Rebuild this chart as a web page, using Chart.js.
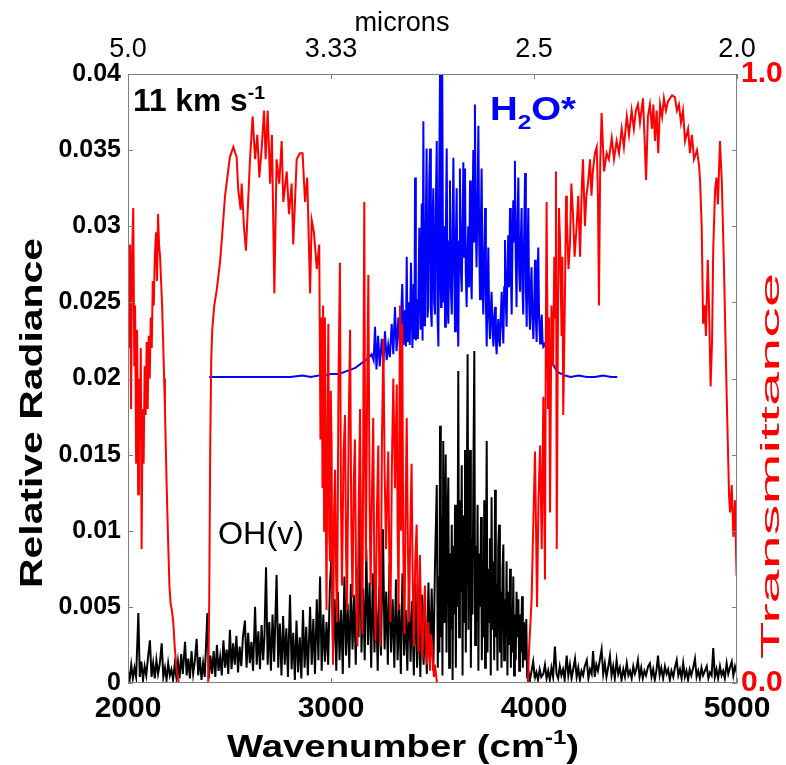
<!DOCTYPE html>
<html>
<head>
<meta charset="utf-8">
<script src="https://cdn.jsdelivr.net/npm/chart.js@4.4.1/dist/chart.umd.min.js"></script>
<style>
  html, body { margin: 0; padding: 0; background: #fff; }
  #wrap { width: 786px; height: 765px; }
</style>
</head>
<body>
<div id="wrap"><canvas id="spectrum" width="786" height="765"></canvas></div>
<script>
// transmittance (right axis), [wavenumber, T]
const transmittance = [
  [2000,.67],[2005,.55],[2010,.72],[2015,.45],[2020,.70],[2026,.78],[2031,.52],[2035,.62],[2040,.36],[2045,.58],
  [2050,.31],[2054,.50],[2059,.40],[2063,.55],[2067,.22],[2072,.45],[2077,.36],[2082,.52],[2087,.44],[2092,.56],
  [2097,.45],[2102,.57],[2107,.50],[2112,.60],[2117,.55],[2122,.66],[2127,.62],[2132,.70],[2138,.74],[2143,.66],
  [2148,.77],[2153,.72],[2158,.70],[2163,.66],[2168,.62],[2173,.56],[2178,.50],[2182,.45],[2190,.33],[2197,.24],
  [2204,.16],[2210,.13],[2216,.12],[2223,.10],[2230,.06],[2240,.02],[2250,0],[2395,0],[2400,.13],[2405,.39],
  [2410,.53],[2415,.58],[2425,.62],[2437,.645],[2453,.69],[2462,.727],[2478,.80],[2502,.864],[2519,.88],[2535,.864],
  [2543,.81],[2555,.777],[2560,.82],[2571,.75],[2581,.71],[2593,.80],[2601,.86],[2614,.93],[2626,.86],[2637,.90],
  [2647,.83],[2659,.88],[2670,.94],[2678,.86],[2688,.94],[2700,.82],[2709,.90],[2721,.64],[2732,.86],[2745,.82],
  [2757,.89],[2765,.79],[2782,.84],[2793,.77],[2806,.82],[2814,.72],[2831,.86],[2847,.87],[2860,.87],[2872,.79],
  [2883,.83],[2897,.64],[2905,.76],[2916,.74],[2930,.68],[2942,.72],[2948,.40],[2954,.60],[2958,.32],[2961,.62],
  [2966,.25],[2970,.60],[2974,.30],[2978,.12],[2983,.45],[2987,.59],[2991,.25],[2995,.20],[2999,.48],[3003,.39],
  [3006,.15],[3010,.03],[3015,.28],[3020,.35],[3025,.18],[3030,.10],[3037,.50],[3044,.69],[3049,.30],[3054,.16],
  [3062,.38],[3069,.44],[3074,.22],[3079,.12],[3087,.42],[3094,.58],[3100,.26],[3106,.14],[3112,.33],[3118,.40],
  [3124,.15],[3130,.06],[3137,.30],[3143,.45],[3149,.18],[3155,.08],[3160,.50],[3164,.79],[3168,.36],[3172,.20],
  [3178,.48],[3184,.67],[3190,.30],[3195,.16],[3202,.32],[3208,.435],[3213,.20],[3219,.07],[3226,.28],[3233,.39],
  [3238,.15],[3244,.06],[3251,.40],[3258,.565],[3264,.35],[3271,.22],[3276,.30],[3282,.38],[3288,.18],[3293,.10],
  [3300,.36],[3307,.50],[3315,.32],[3324,.49],[3328,.26],[3333,.12],[3337,.45],[3340,.62],[3345,.25],[3351,.59],
  [3356,.22],[3362,.08],[3368,.30],[3373,.435],[3379,.22],[3384,.10],[3391,.26],[3397,.36],[3402,.18],[3408,.06],
  [3415,.20],[3422,.26],[3427,.12],[3431,.05],[3438,.21],[3444,.10],[3451,.04],[3457,.12],[3463,.16],[3468,.07],
  [3473,.03],[3479,.10],[3484,.05],[3488,.02],[3493,.08],[3498,.06],[3503,.03],[3507,.01],[3512,.03],[3522,0],
  [3970,0],[3975,.05],[3988,.136],[3995,.24],[4005,.38],[4015,.125],[4022,.30],[4030,.39],[4038,.22],[4046,.47],
  [4054,.17],[4058,.55],[4062,.79],[4069,.45],[4074,.60],[4079,.28],[4086,.62],[4094,.52],[4100,.70],[4104,.60],
  [4108,.84],[4112,.22],[4118,.60],[4123,.78],[4128,.73],[4136,.57],[4140,.70],[4144,.44],[4153,.65],[4158,.80],
  [4162,.76],[4170,.68],[4177,.72],[4184,.82],[4192,.77],[4200,.70],[4210,.75],[4218,.80],[4227,.70],[4235,.81],
  [4241,.86],[4251,.75],[4258,.80],[4266,.82],[4276,.86],[4283,.80],[4290,.84],[4300,.87],[4309,.88],[4315,.80],
  [4320,.62],[4326,.85],[4333,.936],[4345,.84],[4358,.87],[4369,.86],[4383,.895],[4394,.86],[4407,.89],[4419,.87],
  [4432,.91],[4443,.88],[4457,.93],[4468,.90],[4481,.94],[4492,.91],[4502,.94],[4512,.95],[4522,.92],[4537,.96],
  [4544,.90],[4552,.826],[4561,.93],[4571,.95],[4581,.91],[4588,.95],[4596,.89],[4604,.94],[4612,.87],[4621,.95],
  [4631,.93],[4640,.96],[4650,.94],[4660,.955],[4670,.96],[4680,.965],[4694,.962],[4704,.94],[4714,.95],[4724,.92],
  [4734,.94],[4744,.89],[4759,.91],[4768,.87],[4778,.90],[4788,.86],[4803,.875],[4813,.85],[4818,.825],[4826,.75],
  [4833,.59],[4840,.62],[4847,.57],[4856,.695],[4862,.62],[4870,.487],[4877,.56],[4883,.714],[4892,.81],[4899,.83],
  [4906,.786],[4916,.89],[4925,.825],[4936,.68],[4949,.474],[4961,.306],[4966,.28],[4974,.325],[4982,.24],[4990,.30],
  [4998,.176],[5000,.19]
];

// H2O* radiance (left axis)
const h2oRadiance = [
  [2400,.0201],[2500,.0201],[2600,.0201],[2700,.0201],[2800,.0201],[2860,.0202],[2900,.0201],[2940,.0202],[2970,.0202],[3000,.0203],
  [3040,.0203],[3080,.0205],[3120,.0207],[3150,.0210],[3180,.0213],[3200,.0216],[3210,.0212],[3217,.0234],[3224,.0206],[3232,.0228],
  [3240,.0208],[3250,.0226],[3258,.0210],[3266,.0231],[3274,.0212],[3282,.0222],[3290,.0214],[3299,.0236],[3307,.0216],[3315,.0247],
  [3323,.0218],[3332,.0240],[3340,.0219],[3351,.0262],[3358,.0222],[3365,.0245],[3369,.0221],[3373,.0280],[3377,.0224],[3381,.0250],
  [3388,.0222],[3394,.0276],[3401,.0220],[3407,.0262],[3411,.0226],[3414,.0332],[3418,.0225],[3422,.0252],[3428,.0226],[3435,.0299],
  [3441,.0232],[3447,.0315],[3451,.0225],[3455,.0369],[3459,.0235],[3463,.0247],[3467,.0300],[3471,.0351],[3475,.0240],[3479,.0247],
  [3484,.0330],[3488,.0351],[3492,.0245],[3496,.0234],[3500,.0300],[3504,.0325],[3508,.0250],[3512,.0242],[3516,.0310],[3521,.0356],
  [3525,.0240],[3529,.0221],[3533,.0330],[3537,.0400],[3540,.0260],[3542,.0247],[3545,.0360],[3548,.0400],[3552,.0270],[3555,.0250],
  [3558,.0300],[3562,.0234],[3566,.0300],[3570,.0351],[3574,.0250],[3578,.0236],[3582,.0290],[3586,.0330],[3590,.0260],[3595,.0242],
  [3599,.0300],[3603,.0345],[3607,.0270],[3611,.0231],[3615,.0290],[3619,.0325],[3623,.0250],[3627,.0221],[3631,.0290],[3635,.0338],
  [3640,.0270],[3644,.0257],[3648,.0300],[3652,.0342],[3656,.0280],[3660,.0338],[3664,.0270],[3668,.0247],[3672,.0280],[3676,.0300],
  [3680,.0260],[3685,.0330],[3689,.0270],[3693,.0252],[3697,.0300],[3701,.0350],[3705,.0290],[3709,.0380],[3713,.0300],[3717,.0273],
  [3722,.0320],[3726,.0366],[3730,.0290],[3734,.0252],[3738,.0300],[3742,.0338],[3746,.0270],[3750,.0242],[3755,.0280],[3759,.0312],
  [3763,.0250],[3767,.0221],[3771,.0260],[3775,.0286],[3779,.0240],[3783,.0226],[3787,.0245],[3791,.0257],[3796,.0230],[3800,.0221],
  [3804,.0240],[3808,.0247],[3812,.0225],[3816,.0216],[3820,.0230],[3824,.0239],[3828,.0225],[3832,.0221],[3836,.0240],[3841,.0257],
  [3845,.0235],[3849,.0223],[3853,.0260],[3857,.0291],[3861,.0250],[3865,.0234],[3869,.0270],[3873,.0294],[3877,.0260],[3882,.0312],
  [3886,.0270],[3890,.0242],[3894,.0290],[3898,.0317],[3902,.0290],[3906,.0343],[3910,.0280],[3914,.0247],[3918,.0300],[3923,.0332],
  [3927,.0270],[3931,.0257],[3935,.0290],[3939,.0312],[3943,.0260],[3947,.0242],[3951,.0290],[3956,.0335],[3960,.0260],[3964,.0234],
  [3968,.0280],[3972,.0312],[3976,.0250],[3980,.0232],[3984,.0260],[3988,.0273],[3992,.0240],[3997,.0226],[4001,.0250],[4005,.0278],
  [4009,.0240],[4013,.0224],[4017,.0260],[4021,.0286],[4025,.0240],[4030,.0223],[4034,.0235],[4038,.0242],[4042,.0225],[4046,.0221],
  [4054,.0223],[4062,.0218],[4071,.0216],[4080,.0213],[4087,.0211],[4095,.0209],[4103,.0207],[4112,.0205],[4120,.0204],[4135,.0203],
  [4153,.0202],[4180,.0201],[4220,.0202],[4260,.0201],[4300,.0201],[4340,.0202],[4380,.0201],[4410,.0201]
];

// OH(v) radiance (left axis)
const ohRadiance = [
  [2000,.0008],[2008,.0002],[2016,.0012],[2024,.0003],[2032,.0010],[2040,.0004],[2051,.0046],[2058,.0004],[2066,.0014],[2074,.0002],
  [2082,.0011],[2090,.0005],[2098,.0016],[2108,.0028],[2116,.0004],[2124,.0013],[2132,.0003],[2140,.0015],[2148,.0006],[2156,.0012],
  [2166,.0026],[2174,.0004],[2182,.0010],[2190,.0002],[2198,.0013],[2206,.0005],[2214,.0009],[2222,.0002],[2230,.0012],[2238,.0004],
  [2246,.0014],[2254,.0003],[2262,.0019],[2270,.0006],[2281,.0027],[2289,.0005],[2297,.0016],[2305,.0003],[2313,.0021],[2321,.0006],
  [2329,.0014],[2338,.0029],[2346,.0005],[2354,.0017],[2362,.0002],[2370,.0013],[2378,.0004],[2391,.0046],[2398,.0003],[2406,.0018],
  [2414,.0006],[2422,.0021],[2430,.0004],[2438,.0025],[2446,.0008],[2454,.0017],[2462,.0005],[2470,.0028],[2478,.0010],[2486,.0022],
  [2494,.0006],[2502,.0035],[2510,.0009],[2518,.0026],[2526,.0012],[2534,.0031],[2542,.0007],[2550,.0024],[2558,.0011],[2566,.0030],
  [2576,.0041],[2584,.0010],[2592,.0033],[2600,.0013],[2608,.0027],[2616,.0008],[2626,.0050],[2634,.0012],[2642,.0034],[2650,.0009],
  [2658,.0038],[2666,.0015],[2672,.0030],[2680,.0076],[2688,.0012],[2696,.0040],[2704,.0008],[2712,.0045],[2720,.0014],[2732,.0071],
  [2740,.0010],[2748,.0039],[2756,.0005],[2764,.0044],[2772,.0012],[2780,.0036],[2788,.0004],[2798,.0058],[2806,.0009],[2814,.0033],
  [2822,.0002],[2830,.0041],[2838,.0007],[2846,.0030],[2854,.0003],[2862,.0048],[2870,.0010],[2878,.0037],[2886,.0005],[2897,.0050],
  [2905,.0012],[2913,.0042],[2921,.0006],[2930,.0055],[2938,.0015],[2946,.0070],[2954,.0008],[2962,.0045],[2970,.0014],[2978,.0040],
  [2986,.0012],[2994,.0062],[3003,.0085],[3010,.0020],[3018,.0055],[3026,.0008],[3034,.0060],[3042,.0015],[3050,.0048],[3058,.0006],
  [3066,.0070],[3074,.0018],[3082,.0052],[3090,.0010],[3098,.0065],[3106,.0022],[3114,.0058],[3122,.0012],[3130,.0075],[3136,.0030],
  [3143,.0135],[3150,.0020],[3158,.0062],[3166,.0015],[3174,.0088],[3182,.0025],[3190,.0066],[3198,.0010],[3206,.0072],[3214,.0020],
  [3222,.0058],[3230,.0008],[3238,.0064],[3246,.0018],[3256,.0101],[3264,.0022],[3272,.0060],[3280,.0012],[3288,.0078],[3296,.0020],
  [3304,.0055],[3312,.0010],[3320,.0068],[3328,.0015],[3336,.0052],[3344,.0006],[3352,.0072],[3360,.0018],[3368,.0048],[3376,.0008],
  [3384,.0062],[3392,.0014],[3400,.0054],[3408,.0005],[3416,.0065],[3424,.0010],[3432,.0050],[3440,.0004],[3448,.0058],[3456,.0012],
  [3464,.0044],[3472,.0006],[3480,.0066],[3488,.0015],[3496,.0062],[3504,.0008],[3512,.0075],[3521,.0130],[3526,.0010],[3530,.0070],
  [3534,.0020],[3537,.0169],[3541,.0030],[3545,.0110],[3549,.0005],[3553,.0159],[3557,.0040],[3561,.0090],[3565,.0150],[3569,.0020],
  [3573,.0100],[3578,.0135],[3582,.0010],[3586,.0085],[3590,.0035],[3595,.0104],[3599,.0002],[3603,.0090],[3607,.0045],[3611,.0117],
  [3615,.0010],[3619,.0095],[3623,.0050],[3627,.0205],[3631,.0030],[3635,.0120],[3640,.0060],[3644,.0143],[3648,.0005],[3652,.0110],
  [3656,.0040],[3660,.0153],[3664,.0020],[3668,.0100],[3673,.0216],[3677,.0035],[3681,.0105],[3685,.0153],[3689,.0010],[3693,.0095],
  [3697,.0045],[3701,.0130],[3706,.0218],[3710,.0025],[3714,.0090],[3718,.0040],[3722,.0117],[3726,.0008],[3730,.0085],[3735,.0050],
  [3739,.0109],[3743,.0015],[3747,.0080],[3751,.0030],[3755,.0120],[3759,.0010],[3763,.0070],[3767,.0159],[3771,.0020],[3775,.0075],
  [3779,.0040],[3783,.0095],[3787,.0005],[3791,.0122],[3795,.0035],[3800,.0080],[3804,.0015],[3808,.0127],[3812,.0030],[3816,.0065],
  [3820,.0008],[3824,.0090],[3828,.0104],[3832,.0020],[3836,.0060],[3840,.0010],[3845,.0075],[3849,.0091],[3853,.0015],[3857,.0055],
  [3861,.0030],[3865,.0080],[3869,.0005],[3873,.0060],[3877,.0025],[3882,.0075],[3886,.0010],[3890,.0050],[3894,.0020],[3898,.0070],
  [3902,.0005],[3906,.0045],[3910,.0015],[3914,.0060],[3918,.0030],[3923,.0055],[3927,.0008],[3931,.0045],[3935,.0020],[3941,.0057],
  [3945,.0010],[3950,.0040],[3955,.0015],[3962,.0042],[3966,.0003],[3972,.0008],[3980,.0002],[3988,.0008],[3996,.0014],[4004,.0003],
  [4012,.0007],[4020,.0002],[4028,.0009],[4036,.0004],[4046,.0006],[4054,.0012],[4062,.0003],[4070,.0008],[4078,.0002],[4086,.0010],
  [4094,.0004],[4103,.0024],[4111,.0006],[4119,.0003],[4127,.0011],[4135,.0005],[4143,.0009],[4151,.0002],[4161,.0018],[4169,.0005],
  [4177,.0012],[4185,.0003],[4193,.0009],[4202,.0016],[4210,.0004],[4218,.0010],[4226,.0002],[4234,.0008],[4242,.0005],[4250,.0011],
  [4260,.0015],[4268,.0003],[4276,.0009],[4284,.0006],[4291,.0021],[4299,.0004],[4307,.0012],[4315,.0008],[4323,.0014],[4333,.0022],
  [4341,.0006],[4349,.0013],[4357,.0004],[4365,.0010],[4374,.0018],[4382,.0005],[4390,.0011],[4398,.0003],[4407,.0015],[4415,.0006],
  [4423,.0010],[4431,.0002],[4440,.0009],[4448,.0004],[4457,.0013],[4465,.0005],[4473,.0008],[4481,.0003],[4489,.0011],[4497,.0006],
  [4504,.0009],[4512,.0015],[4520,.0004],[4528,.0010],[4536,.0003],[4544,.0008],[4552,.0005],[4562,.0011],[4571,.0013],[4579,.0004],
  [4587,.0009],[4595,.0002],[4603,.0008],[4611,.0018],[4619,.0005],[4627,.0010],[4636,.0003],[4645,.0011],[4653,.0006],[4661,.0009],
  [4669,.0002],[4677,.0008],[4686,.0004],[4694,.0010],[4703,.0015],[4711,.0005],[4719,.0009],[4727,.0003],[4735,.0013],[4743,.0004],
  [4751,.0008],[4759,.0002],[4767,.0009],[4775,.0005],[4784,.0010],[4793,.0016],[4801,.0004],[4809,.0008],[4817,.0003],[4825,.0010],
  [4833,.0005],[4842,.0008],[4851,.0011],[4859,.0003],[4867,.0007],[4875,.0005],[4883,.0023],[4891,.0004],[4899,.0009],[4907,.0003],
  [4916,.0011],[4924,.0005],[4932,.0008],[4940,.0003],[4949,.0013],[4957,.0006],[4965,.0010],[4974,.0014],[4982,.0005],[4990,.0011],
  [5000,.0006]
];

// top axis labels (microns) at 2000, 3000, 4000, 5000 cm-1
const micronLabels = ["5.0", "3.33", "2.5", "2.0"];
const FONT = "'Liberation Sans', Arial, sans-serif";

function toXY(arr) {
  return arr.map(function (p) { return { x: p[0], y: p[1] }; });
}

// box + inward tick marks, matlab style
const framePlugin = {
  id: 'frame',
  afterDatasetsDraw(chart) {
    const ctx = chart.ctx;
    const a = chart.chartArea;
    const sx = chart.scales.x, sy = chart.scales.y;
    ctx.save();
    ctx.strokeStyle = '#808080';
    ctx.lineWidth = 1;
    ctx.strokeRect(a.left + 0.5, a.top + 0.5, a.right - a.left - 1, a.bottom - a.top - 1);
    ctx.beginPath();
    sy.ticks.forEach(function (t) {
      const py = Math.round(sy.getPixelForValue(t.value)) + 0.5;
      ctx.moveTo(a.left, py); ctx.lineTo(a.left + 5, py);
      ctx.moveTo(a.right, py); ctx.lineTo(a.right - 5, py);
    });
    sx.ticks.forEach(function (t) {
      const px = Math.round(sx.getPixelForValue(t.value)) + 0.5;
      ctx.moveTo(px, a.bottom); ctx.lineTo(px, a.bottom - 5);
      ctx.moveTo(px, a.top); ctx.lineTo(px, a.top + 5);
    });
    ctx.stroke();
    ctx.restore();
  }
};

// draw text pieces [text, size, dy, weight] starting at 0,0, squeezed to width w
function drawParts(ctx, parts, w) {
  let natural = 0;
  parts.forEach(function (p) {
    ctx.font = p[3] + ' ' + p[1] + 'px ' + FONT;
    natural += ctx.measureText(p[0]).width;
  });
  const k = w ? w / natural : 1;
  ctx.scale(k, 1);
  let cx = 0;
  parts.forEach(function (p) {
    ctx.font = p[3] + ' ' + p[1] + 'px ' + FONT;
    ctx.fillText(p[0], cx, p[2]);
    cx += ctx.measureText(p[0]).width;
  });
}

function label(ctx, parts, x, y, w, color, angle, centered) {
  ctx.save();
  ctx.fillStyle = color;
  ctx.textAlign = 'left';
  ctx.textBaseline = 'alphabetic';
  ctx.translate(x, y);
  if (angle) ctx.rotate(angle);
  if (centered) ctx.translate(-w / 2, 0);
  drawParts(ctx, parts, w);
  ctx.restore();
}

const textPlugin = {
  id: 'texts',
  afterDraw(chart) {
    const ctx = chart.ctx;
    const up = -Math.PI / 2;
    label(ctx, [['microns', 27, 0, 'normal']], 402, 31, 95, '#000', 0, true);
    label(ctx, [['Wavenumber (cm', 32, 0, 'bold'], ['-1', 20, -13, 'bold'], [')', 32, 0, 'bold']],
          403, 757, 352, '#000', 0, true);
    label(ctx, [['Relative Radiance', 31, 0, 'bold']], 42, 413, 350, '#000', up, true);
    label(ctx, [['Transmittance', 26, 0, 'normal']], 779, 466, 386, '#ff0000', up, true);
    label(ctx, [['11 km s', 31, 0, 'bold'], ['-1', 19, -12, 'bold']], 133, 111, 132, '#000', 0, false);
    label(ctx, [['H', 33, 0, 'bold'], ['2', 21, 9, 'bold'], ['O*', 33, 0, 'bold']], 490, 120, 86, '#0000ff', 0, false);
    label(ctx, [['OH(v)', 32, 0, 'normal']], 218, 544, 86, '#000', 0, false);
  }
};

new Chart(document.getElementById('spectrum'), {
  type: 'line',
  data: {
    datasets: [{
      label: 'Transmittance',
      data: toXY(transmittance),
      xAxisID: 'x',
      yAxisID: 'y2',
      borderColor: '#ff0000',
      borderWidth: 2,
      order: 0
    }, {
      label: 'H2O*',
      data: toXY(h2oRadiance),
      xAxisID: 'x',
      yAxisID: 'y',
      borderColor: '#0000ff',
      borderWidth: 2,
      order: 1
    }, {
      label: 'OH(v)',
      data: toXY(ohRadiance),
      xAxisID: 'x',
      yAxisID: 'y',
      borderColor: '#000000',
      borderWidth: 2,
      order: 2
    }]
  },
  options: {
    responsive: false,
    animation: false,
    parsing: false,
    normalized: true,
    layout: { padding: 0 },
    elements: { point: { radius: 0 }, line: { tension: 0, fill: false } },
    plugins: { legend: { display: false }, tooltip: { enabled: false } },
    scales: {
      x: {
        type: 'linear', position: 'bottom', min: 2000, max: 5000,
        afterFit: function (s) { s.height = 82; },
        grid: { display: false, drawTicks: false }, border: { display: false },
        ticks: { stepSize: 1000, autoSkip: false, maxRotation: 0, padding: 8, color: '#000',
                 font: { family: FONT, size: 30, weight: 'bold' },
                 callback: function (v) { return String(v); } }
      },
      xTop: {
        type: 'linear', position: 'top', min: 2000, max: 5000,
        afterFit: function (s) { s.height = 74; },
        grid: { display: false, drawTicks: false }, border: { display: false },
        ticks: { stepSize: 1000, autoSkip: false, maxRotation: 0, padding: 8, color: '#000',
                 font: { family: FONT, size: 27 },
                 callback: function (v, i) { return micronLabels[i]; } }
      },
      y: {
        type: 'linear', position: 'left', min: 0, max: 0.04,
        afterFit: function (s) { s.width = 128; },
        grid: { display: false, drawTicks: false }, border: { display: false },
        ticks: { stepSize: 0.005, autoSkip: false, padding: 7, color: '#000',
                 font: { family: FONT, size: 25, weight: 'bold' },
                 callback: function (v) { return String(+v.toFixed(3)); } }
      },
      y2: {
        type: 'linear', position: 'right', min: 0, max: 1,
        afterFit: function (s) { s.width = 49; },
        grid: { display: false, drawTicks: false }, border: { display: false },
        ticks: { stepSize: 1, autoSkip: false, padding: 4, color: '#ff0000',
                 font: { family: FONT, size: 30, weight: 'bold' },
                 callback: function (v) { return v.toFixed(1); } }
      }
    }
  },
  plugins: [framePlugin, textPlugin]
});
</script>
</body>
</html>
